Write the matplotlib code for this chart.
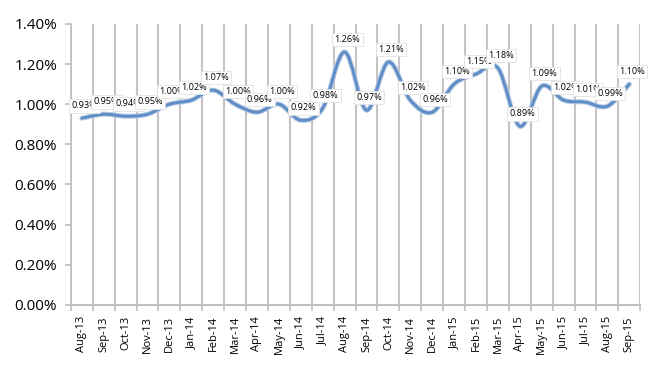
import matplotlib
matplotlib.use("Agg")
from matplotlib import pyplot as plt
from matplotlib.path import Path
from matplotlib.patches import PathPatch
import matplotlib.patheffects as pe
from matplotlib.ticker import FuncFormatter, FixedLocator
import numpy as np

months = ["Aug-13", "Sep-13", "Oct-13", "Nov-13", "Dec-13", "Jan-14", "Feb-14",
          "Mar-14", "Apr-14", "May-14", "Jun-14", "Jul-14", "Aug-14", "Sep-14",
          "Oct-14", "Nov-14", "Dec-14", "Jan-15", "Feb-15", "Mar-15", "Apr-15",
          "May-15", "Jun-15", "Jul-15", "Aug-15", "Sep-15"]
rates = [0.93, 0.95, 0.94, 0.95, 1.00, 1.02, 1.07, 1.00, 0.96, 1.00, 0.92, 0.98,
         1.26, 0.97, 1.21, 1.02, 0.96, 1.10, 1.15, 1.18, 0.89, 1.09, 1.02, 1.01,
         0.99, 1.10]

plt.rcParams['font.family'] = ['Open Sans', 'DejaVu Sans']

fig = plt.figure(figsize=(6.5, 3.67), dpi=100)
ax = fig.add_axes([0.109, 0.169, 0.876, 0.766])

x = np.arange(len(rates))
y = np.array(rates)

# smoothed line like excel: cubic bezier segments through the data points
verts = [(x[0], y[0])]
codes = [Path.MOVETO]
n = len(x)
for i in range(n - 1):
    p0 = np.array([x[max(i - 1, 0)], y[max(i - 1, 0)]])
    p1 = np.array([x[i], y[i]])
    p2 = np.array([x[i + 1], y[i + 1]])
    p3 = np.array([x[min(i + 2, n - 1)], y[min(i + 2, n - 1)]])
    c1 = p1 + (p2 - p0) / 6.0
    c2 = p2 - (p3 - p1) / 6.0
    verts += [tuple(c1), tuple(c2), tuple(p2)]
    codes += [Path.CURVE4] * 3
curve = PathPatch(Path(verts, codes), fill=False, edgecolor='#5f8dc6', lw=2.1,
                  zorder=3, capstyle='round')
curve.set_path_effects([pe.Stroke(linewidth=3.6, foreground='#b7cbe4'),
                        pe.Normal()])
ax.add_patch(curve)

# vertical grid lines between categories
for k in range(n + 1):
    ax.axvline(k - 0.5, color='#c4c4c4', lw=1.5, zorder=1)

for xi, yi in zip(x, y):
    ax.annotate("%.2f%%" % yi, (xi, yi), xytext=(2, 9), textcoords='offset points',
                ha='center', va='center', fontsize=6.6, color='black', zorder=5,
                bbox=dict(boxstyle='square,pad=0.25', fc='white', ec='#e2e2e2', lw=0.6))

ax.set_xlim(-0.5, n - 0.5)
ax.set_ylim(0, 1.4)
ax.set_yticks(np.arange(0, 1.41, 0.2))
ax.yaxis.set_major_formatter(FuncFormatter(lambda v, p: "%.2f%%" % v))
ax.set_xticks(x)
ax.set_xticklabels(months, rotation=90, fontsize=8)
ax.xaxis.set_minor_locator(FixedLocator(np.arange(-0.5, n, 1.0)))
ax.tick_params(axis='x', which='major', length=0, pad=8)
ax.tick_params(axis='x', which='minor', length=4, color='#bfbfbf', width=1.2)
ax.tick_params(axis='y', labelsize=11, length=4, color='#bfbfbf', width=1.2, pad=6)

for s in ['top', 'right']:
    ax.spines[s].set_visible(False)
ax.spines['left'].set_color('#bfbfbf')
ax.spines['bottom'].set_color('#bfbfbf')
ax.spines['left'].set_linewidth(1.2)
ax.spines['bottom'].set_linewidth(1.5)

fig.savefig('out.png', dpi=100)
